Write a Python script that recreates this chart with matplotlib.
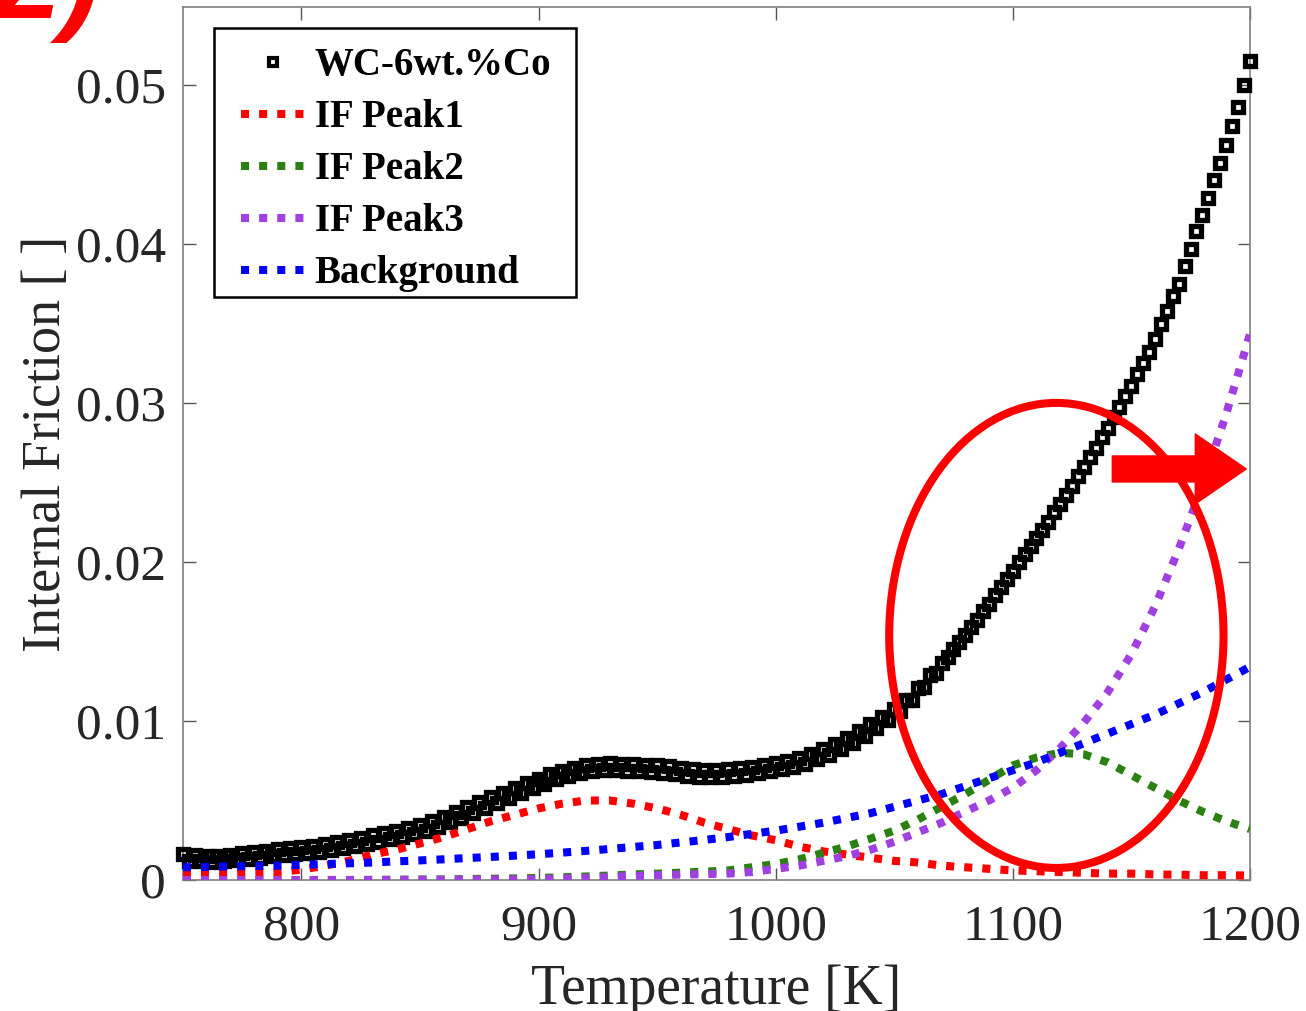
import numpy as np
import matplotlib
matplotlib.use("Agg")
import matplotlib.pyplot as plt
from matplotlib.patches import Ellipse, FancyArrowPatch, Rectangle

plt.rcParams['font.family'] = ['Liberation Serif', 'DejaVu Serif']

# measured internal friction, evenly spaced from 750 K to 1200 K
if_meas = [
    0.00162, 0.00120, 0.00155, 0.00118, 0.00150, 0.00115, 0.00152, 0.00122,
    0.00160, 0.00126, 0.00168, 0.00130, 0.00176, 0.00140, 0.00184, 0.00150,
    0.00192, 0.00156, 0.00200, 0.00162, 0.00208, 0.00170, 0.00216, 0.00178,
    0.00226, 0.00188, 0.00238, 0.00198, 0.00252, 0.00212, 0.00266, 0.00226,
    0.00280, 0.00240, 0.00295, 0.00256, 0.00310, 0.00270, 0.00328, 0.00288,
    0.00348, 0.00310, 0.00372, 0.00334, 0.00398, 0.00362, 0.00428, 0.00392,
    0.00458, 0.00422, 0.00488, 0.00454, 0.00520, 0.00484, 0.00550, 0.00516,
    0.00580, 0.00548, 0.00612, 0.00578, 0.00638, 0.00606, 0.00664, 0.00632,
    0.00686, 0.00652, 0.00706, 0.00672, 0.00722, 0.00684, 0.00730, 0.00690,
    0.00734, 0.00692, 0.00732, 0.00688, 0.00728, 0.00684, 0.00724, 0.00678,
    0.00720, 0.00674, 0.00714, 0.00664, 0.00704, 0.00656, 0.00698, 0.00648,
    0.00692, 0.00648, 0.00694, 0.00650, 0.00698, 0.00654, 0.00704, 0.00660,
    0.00712, 0.00670, 0.00724, 0.00684, 0.00736, 0.00698, 0.00750, 0.00712,
    0.00770, 0.00732, 0.00794, 0.00758, 0.00822, 0.00788, 0.00856, 0.00824,
    0.00894, 0.00864, 0.00934, 0.00908, 0.00978, 0.00954, 0.01022, 0.01004,
    0.01074, 0.01062, 0.01132, 0.01132, 0.01208, 0.01216, 0.01290, 0.01303,
    0.01362, 0.01404, 0.01450, 0.01494, 0.01542, 0.01590, 0.01638, 0.01690,
    0.01738, 0.01792, 0.01840, 0.01896, 0.01946, 0.02000, 0.02048, 0.02102,
    0.02148, 0.02204, 0.02252, 0.02312, 0.02362, 0.02424, 0.02478, 0.02540,
    0.02596, 0.02662, 0.02718, 0.02784, 0.02842, 0.02912, 0.02972, 0.03044,
    0.03108, 0.03182, 0.03250, 0.03320, 0.03400, 0.03495, 0.03580, 0.03670,
    0.03750, 0.03860, 0.03970, 0.04080, 0.04180, 0.04290, 0.04400, 0.04510,
    0.04620, 0.04740, 0.04860, 0.05000, 0.05150,
]
temp_meas = np.linspace(750, 1200, len(if_meas))

# fitted components, every 10 K
temp_fit = np.arange(750, 1201, 10)
peak1 = [0.00045, 0.00045, 0.00047, 0.00048, 0.00050, 0.00065, 0.00090, 0.00120,
         0.00160, 0.00190, 0.00230, 0.00270, 0.00320, 0.00370, 0.00410, 0.00450,
         0.00480, 0.00500, 0.00500, 0.00480, 0.00450, 0.00410, 0.00360, 0.00320,
         0.00280, 0.00250, 0.00210, 0.00180, 0.00160, 0.00140, 0.00120, 0.00110,
         0.00090, 0.00080, 0.00070, 0.00060, 0.00055, 0.00050, 0.00045, 0.00040,
         0.00040, 0.00035, 0.00033, 0.00030, 0.00030, 0.00028]
peak2 = [0.0, 0.0, 0.0, 0.0, 0.0, 0.0, 0.0, 0.0,
         0.00001, 0.00002, 0.00003, 0.00004, 0.00006, 0.00008, 0.00010, 0.00013,
         0.00017, 0.00022, 0.00028, 0.00035, 0.00040, 0.00046, 0.00052, 0.00060,
         0.00080, 0.00100, 0.00130, 0.00170, 0.00210, 0.00260, 0.00310, 0.00380,
         0.00460, 0.00540, 0.00630, 0.00720, 0.00770, 0.00800, 0.00790, 0.00740,
         0.00660, 0.00580, 0.00500, 0.00430, 0.00370, 0.00320]
peak3 = [0.0, 0.0, 0.0, 0.0, 0.0, 0.0, 0.0, 0.0,
         0.0, 0.0, 0.00001, 0.00001, 0.00002, 0.00003, 0.00004, 0.00006,
         0.00009, 0.00013, 0.00018, 0.00025, 0.00030, 0.00034, 0.00037, 0.00040,
         0.00050, 0.00070, 0.00090, 0.00120, 0.00150, 0.00190, 0.00240, 0.00300,
         0.00360, 0.00430, 0.00500, 0.00580, 0.00690, 0.00830, 0.00990, 0.01180,
         0.01420, 0.01720, 0.02080, 0.02480, 0.02930, 0.03430]
background = [0.00080, 0.00082, 0.00085, 0.00088, 0.00090, 0.00095, 0.00100, 0.00105,
              0.00110, 0.00117, 0.00123, 0.00130, 0.00138, 0.00145, 0.00153, 0.00162,
              0.00172, 0.00183, 0.00195, 0.00208, 0.00220, 0.00236, 0.00252, 0.00270,
              0.00290, 0.00310, 0.00335, 0.00360, 0.00390, 0.00420, 0.00460, 0.00500,
              0.00540, 0.00590, 0.00640, 0.00690, 0.00740, 0.00800, 0.00860, 0.00920,
              0.00980, 0.01040, 0.01110, 0.01180, 0.01260, 0.01340]

labels = ["WC-6wt.%Co", "IF Peak1", "IF Peak2", "IF Peak3", "Background"]
fit_colors = ["#ff0000", "#2a8010", "#a040e0", "#0000ff"]

fig, ax = plt.subplots(figsize=(13.06, 10.11), dpi=100)
fig.subplots_adjust(left=0.140, right=0.957, bottom=0.1296, top=0.993)

ax.plot(temp_meas, if_meas, linestyle='none', marker='s', ms=6.5, mew=3.8,
        mfc='none', mec='black', label=labels[0], clip_on=False, zorder=3)
for vals, col, lab in zip([peak1, peak2, peak3, background], fit_colors, labels[1:]):
    ax.plot(temp_fit, vals, color=col, lw=5.8, linestyle=(0, (1, 1.25)),
            dash_capstyle='butt', label=lab, zorder=4)

# highlight ellipse and arrow
ax.add_patch(Ellipse((1118.4, 0.01538), 141, 0.02925, fill=False,
                     edgecolor='red', lw=5.8, zorder=5))
ax.add_patch(FancyArrowPatch((1142, 0.02585), (1198.5, 0.02585),
                             arrowstyle='simple,head_length=1.02,head_width=1.4,tail_width=0.52',
                             mutation_scale=36, color='red', shrinkA=0, shrinkB=0, zorder=6))

ax.set_xlim(750, 1200)
ax.set_ylim(0, 0.0549)
ax.set_xticks([800, 900, 1000, 1100, 1200])
ax.set_yticks([0, 0.01, 0.02, 0.03, 0.04, 0.05])
ax.set_yticklabels(['0', '0.01', '0.02', '0.03', '0.04', '0.05'])
ax.tick_params(direction='in', top=True, right=True, length=9, width=1,
               color='#555555', labelsize=37, labelcolor='#262626')
ax.tick_params(axis='x', pad=17)
ax.tick_params(axis='y', pad=12)
for s in ax.spines.values():
    s.set_color('#808080')
    s.set_linewidth(1.2)

ax.set_xlabel('Temperature [K]', fontsize=40, color='#262626', labelpad=10)
ax.set_ylabel('Internal Friction [ ]', fontsize=39, color='#262626', labelpad=3)

# legend without its own frame, box drawn separately
leg = ax.legend(loc='upper left', bbox_to_anchor=(0.0544, 0.9537), borderaxespad=0,
                prop={'family': 'Liberation Serif', 'weight': 'bold', 'size': 28},
                handlelength=1.65, handletextpad=0.25, labelspacing=0.385,
                borderpad=0, frameon=False, numpoints=1)
leg.set_zorder(8)
leg.legend_handles[0].set_markersize(5.5)
leg.legend_handles[0].set_markeredgewidth(3.0)
ax.add_patch(Rectangle((0.0291, 0.6678), 0.3393, 0.3081, transform=ax.transAxes,
                       facecolor='white', edgecolor='black', lw=1.8, zorder=7))

fig.text(-0.004, 1 - 18 / 1011, '2)', color='red', fontsize=86, fontweight='bold',
         fontstyle='italic', family='Liberation Sans', va='baseline', ha='left')

fig.savefig('out.png', dpi=100)
